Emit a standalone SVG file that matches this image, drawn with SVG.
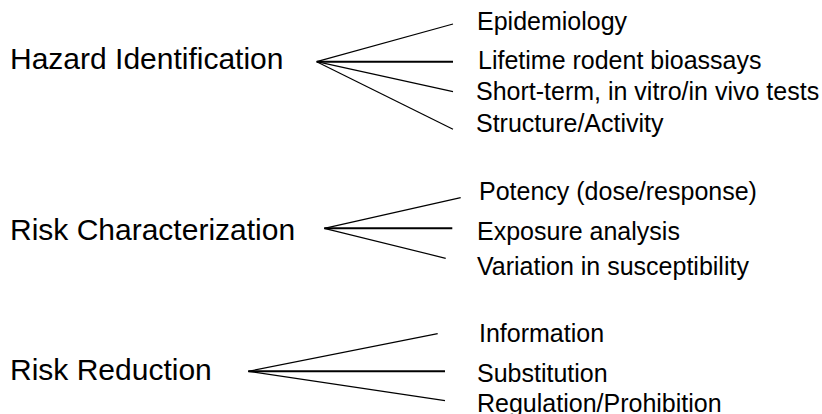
<svg xmlns="http://www.w3.org/2000/svg" width="822" height="414" viewBox="0 0 822 414">
<style>
.main{font-family:"Liberation Sans",Arial,sans-serif;font-size:30px;fill:#000}
.sub{font-family:"Liberation Sans",Arial,sans-serif;font-size:25px;fill:#000}
.c line{stroke:#000;stroke-width:1.2;fill:none}
.c line.h{stroke-width:2}
</style>
<rect width="822" height="414" fill="#fff"/>
<g id="hazard"><text class="main" x="10" y="69.3">Hazard Identification</text></g>
<g id="riskchar"><text class="main" x="10" y="240">Risk Characterization</text></g>
<g id="riskred"><text class="main" x="10" y="380">Risk Reduction</text></g>
<g id="epidemiology"><text class="sub" x="477" y="30">Epidemiology</text></g>
<g id="lifetime"><text class="sub" x="478" y="69.3">Lifetime rodent bioassays</text></g>
<g id="shortterm"><text class="sub" x="476" y="100">Short-term, in vitro/in vivo tests</text></g>
<g id="structure"><text class="sub" x="476" y="131.7">Structure/Activity</text></g>
<g id="potency"><text class="sub" x="479" y="200">Potency (dose/response)</text></g>
<g id="exposure"><text class="sub" x="477" y="240">Exposure analysis</text></g>
<g id="variation"><text class="sub" x="477" y="275">Variation in susceptibility</text></g>
<g id="information"><text class="sub" x="479" y="341.7">Information</text></g>
<g id="substitution"><text class="sub" x="477" y="381.7">Substitution</text></g>
<g id="regulation"><text class="sub" x="477" y="412">Regulation/Prohibition</text></g>
<g id="connectors" class="c">
<line x1="316.7" y1="61.7" x2="453" y2="24"/>
<line class="h" x1="316.7" y1="61.7" x2="453" y2="61.7"/>
<line x1="316.7" y1="61.7" x2="453" y2="91.7"/>
<line x1="316.7" y1="61.7" x2="453" y2="129.3"/>
<line x1="324.3" y1="228.3" x2="460.7" y2="197.7"/>
<line class="h" x1="324.3" y1="228.3" x2="452.3" y2="228.3"/>
<line x1="324.3" y1="228.3" x2="445.7" y2="258.3"/>
<line x1="248.3" y1="371.3" x2="437.7" y2="333.7"/>
<line class="h" x1="248.3" y1="371.3" x2="445" y2="371.3"/>
<line x1="248.3" y1="371.3" x2="445" y2="400.7"/>
</g>
</svg>
